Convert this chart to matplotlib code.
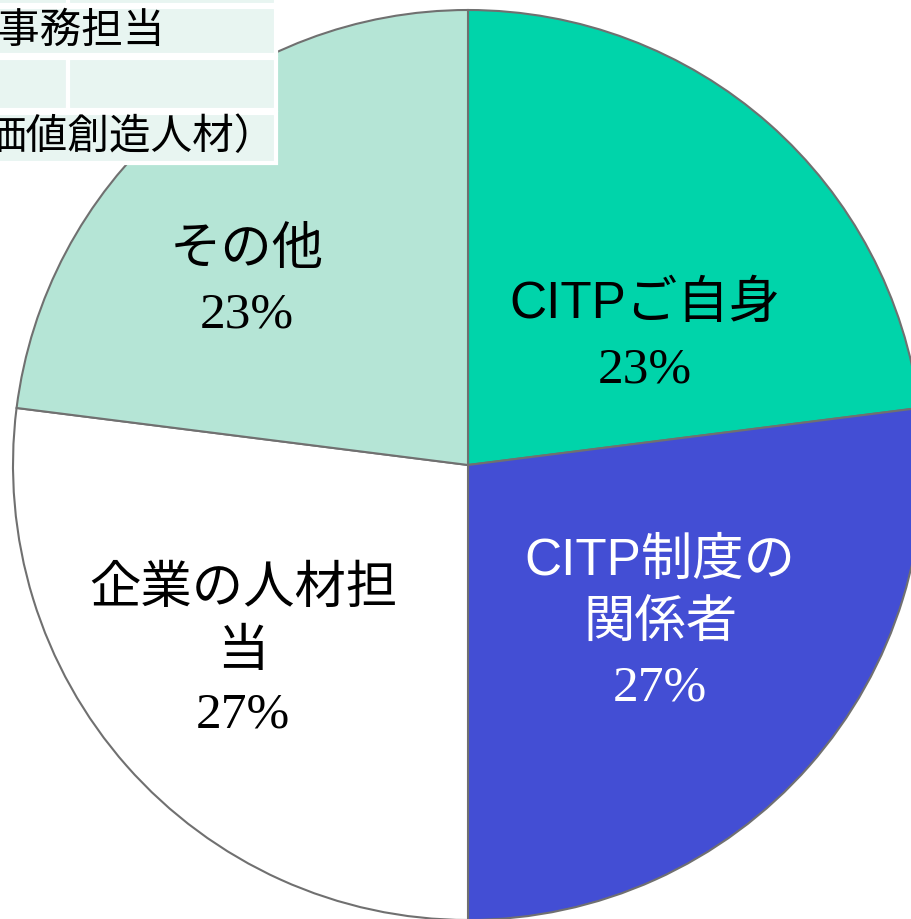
import matplotlib.pyplot as plt
from matplotlib.patches import Rectangle

plt.rcParams['font.family'] = ['Liberation Sans', 'Noto Sans CJK JP', 'DejaVu Sans']

# pie data (clockwise from top)
labels = ['CITPご自身', 'CITP制度の\n関係者', '企業の人材担\n当', 'その他']
shares = [23, 27, 27, 23]
colors = ['#00d4aa', '#434ed4', '#ffffff', '#b5e5d6']
text_colors = ['black', 'white', 'black', 'black']

# partially visible table in the upper left
table_rows = ['', '事務担当', '', '価値創造人材）']

W, H = 911, 919
fig = plt.figure(figsize=(W / 100, H / 100), dpi=100)
ax = fig.add_axes([0, 0, 1, 1])

cx, cy, r = 468, H - 465, 455
ax.pie(shares, colors=colors, startangle=90, counterclock=False,
       center=(cx, cy), radius=r, frame=True,
       wedgeprops=dict(edgecolor='#707070', linewidth=1.5))
ax.set_xlim(0, W)
ax.set_ylim(0, H)
ax.set_aspect('equal')
ax.axis('off')

# label positions (pixel coords, top-left origin)
label_pos = [(645, 305), (660, 593), (243, 621), (247, 250)]
pct_pos = [(645, 370), (660, 688), (243, 715), (247, 315)]
for lab, pct, lp, pp, tc in zip(labels, shares, label_pos, pct_pos, text_colors):
    ax.text(lp[0], H - lp[1], lab, ha='center', va='center', fontsize=37,
            color=tc, linespacing=1.35)
    ax.text(pp[0], H - pp[1], f'{pct}%', ha='center', va='center', fontsize=37,
            color=tc, family='Liberation Serif')

# table
row_edges = [(-40, 5), (7, 55), (58, 110), (113, 163)]
for (y0, y1), txt in zip(row_edges, table_rows):
    if txt:
        ax.add_patch(Rectangle((-10, H - y1), 286, y1 - y0, facecolor='#e8f5f1',
                               edgecolor='white', linewidth=3, zorder=5))
    else:
        ax.add_patch(Rectangle((-10, H - y1), 78, y1 - y0, facecolor='#e8f5f1',
                               edgecolor='white', linewidth=3, zorder=5))
        ax.add_patch(Rectangle((68, H - y1), 208, y1 - y0, facecolor='#e8f5f1',
                               edgecolor='white', linewidth=3, zorder=5))
ax.text(-2, H - 32, table_rows[1], ha='left', va='center', fontsize=30, zorder=6)
ax.text(-16, H - 138, table_rows[3], ha='left', va='center', fontsize=30, zorder=6)

fig.savefig('out.png', dpi=100)
